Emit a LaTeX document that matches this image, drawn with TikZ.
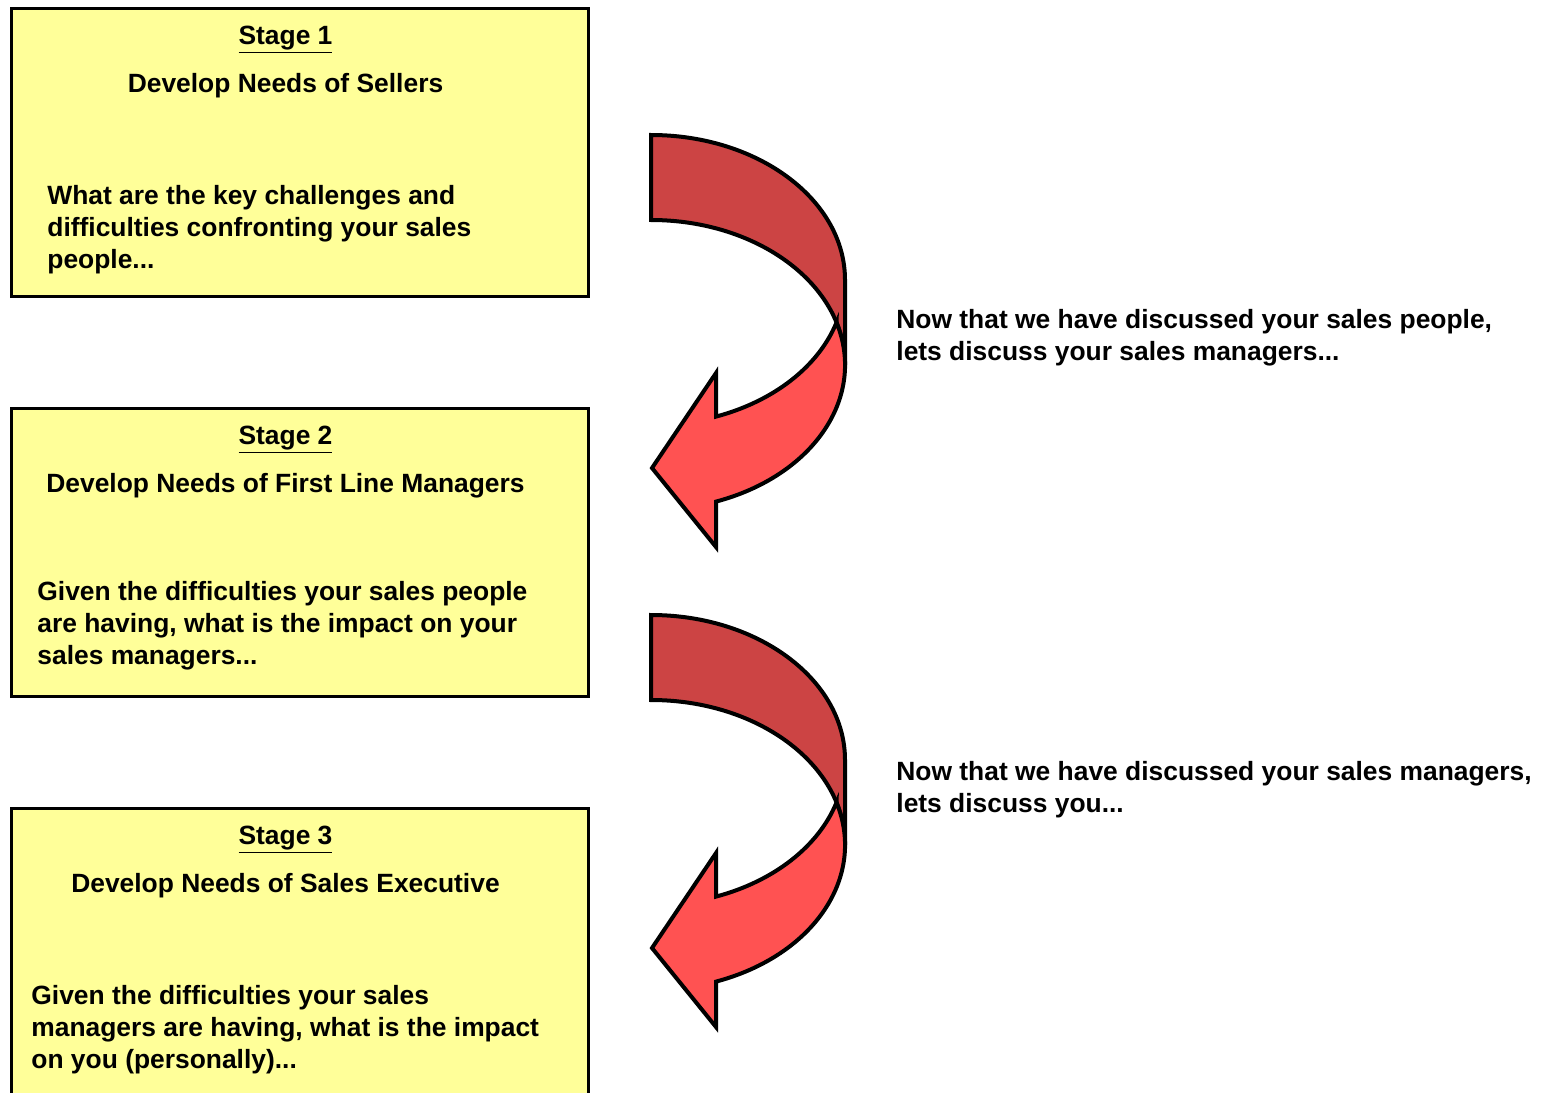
\documentclass[tikz,border=0pt]{standalone}
\usepackage{fontspec}
\setmainfont{Liberation Sans}
\definecolor{boxyellow}{RGB}{255,255,153}
\definecolor{backred}{RGB}{204,68,68}
\definecolor{frontred}{RGB}{255,82,82}
\tikzset{
  stagebox/.style={line width=1.75pt, fill=boxyellow},
  bandpart/.style={line width=2pt, line join=miter},
  stagetext/.style={inner sep=0pt, font=\bfseries\fontsize{13.2}{16}\selectfont},
}
% curved arrow, #1 = vertical offset
\def\bendarrow(#1){
  \begin{scope}[shift={(0,#1)}]
    \draw[bandpart, fill=backred] (651,135) arc[start angle=-90, end angle=0, x radius=194, y radius=145]
      -- (845,365) arc[start angle=0, end angle=-90, x radius=194, y radius=145] -- cycle;
    \draw[bandpart, fill=frontred] (836.5,322.5) arc[start angle=-17.04, end angle=70.43, x radius=194, y radius=145]
      -- (716,547) -- (652,468) -- (716,373) -- (716,416.6)
      arc[start angle=70.43, end angle=17.04, x radius=194, y radius=145] -- cycle;
  \end{scope}
}

\begin{document}
\begin{tikzpicture}[x=0.5pt, y=-0.5pt]
  \useasboundingbox (0,0) rectangle (1541,1092);

  %%%%% stage boxes %%%%%
  \draw[stagebox] (11.5,8.5) rectangle (588.5,296.5);
  \draw[stagebox] (11.5,408.5) rectangle (588.5,696.5);
  \draw[stagebox] (11.5,808.5) rectangle (588.5,1100);

  \node[stagetext, anchor=base] (title1) at (285.5,44) {\underline{Stage 1}};
  \node[stagetext, anchor=base] (need1) at (285.5,92) {Develop Needs of Sellers};
  \node[stagetext, anchor=base west, align=left] (ask1) at (47,268)
    {What are the key challenges and\\difficulties confronting your sales\\people...};

  \node[stagetext, anchor=base] (title2) at (285.5,444) {\underline{Stage 2}};
  \node[stagetext, anchor=base] (need2) at (285.5,492) {Develop Needs of First Line Managers};
  \node[stagetext, anchor=base west, align=left] (ask2) at (37,664)
    {Given the difficulties your sales people\\are having, what is the impact on your\\sales managers...};

  \node[stagetext, anchor=base] (title3) at (285.5,844) {\underline{Stage 3}};
  \node[stagetext, anchor=base] (need3) at (285.5,892) {Develop Needs of Sales Executive};
  \node[stagetext, anchor=base west, align=left] (ask3) at (31,1068)
    {Given the difficulties your sales\\managers are having, what is the impact\\on you (personally)...};

  %%%%% arrows %%%%%
  \bendarrow(0)
  \bendarrow(480)

  \node[stagetext, anchor=base west, align=left] (link1) at (896,360)
    {Now that we have discussed your sales people,\\lets discuss your sales managers...};
  \node[stagetext, anchor=base west, align=left] (link2) at (896,812)
    {Now that we have discussed your sales managers,\\lets discuss you...};
\end{tikzpicture}
\end{document}
